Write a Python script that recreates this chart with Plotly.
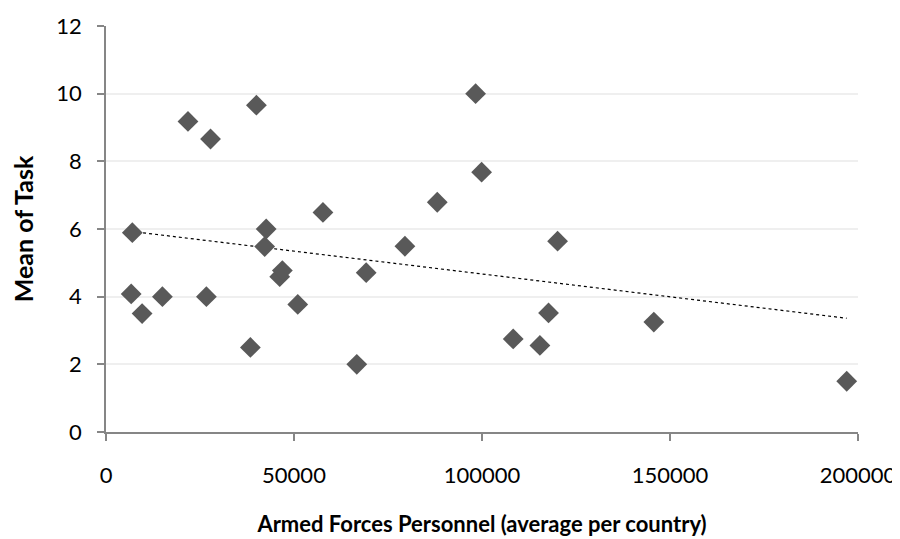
import numpy as np
import plotly.graph_objects as go

# Data
armed_forces = [7000, 6700, 9600, 15000, 21800, 26700, 27800, 38400, 40000, 42200,
                42600, 46200, 46900, 51000, 57700, 66700, 69200, 79500, 88100, 98300,
                99900, 108300, 115400, 117700, 120100, 145700, 197000]
mean_task = [5.89, 4.08, 3.50, 4.00, 9.18, 4.00, 8.66, 2.50, 9.66, 5.48,
             6.00, 4.59, 4.77, 3.77, 6.49, 2.00, 4.71, 5.49, 6.79, 10.0,
             7.68, 2.75, 2.56, 3.52, 5.64, 3.25, 1.50]

x_ticks = [0, 50000, 100000, 150000, 200000]
y_ticks = [0, 2, 4, 6, 8, 10, 12]

x_title = "Armed Forces Personnel (average per country)"
y_title = "Mean of Task"

# Linear trendline
xa = np.array(armed_forces, dtype=float)
ya = np.array(mean_task, dtype=float)
slope, intercept = np.polyfit(xa, ya, 1)
tx = [xa.min(), xa.max()]
ty = [slope * v + intercept for v in tx]

fig = go.Figure()
fig.add_trace(go.Scatter(
    x=tx, y=ty, mode="lines",
    line=dict(color="#000000", width=1.2, dash="dot"),
    hoverinfo="skip", showlegend=False,
))
fig.add_trace(go.Scatter(
    x=armed_forces, y=mean_task, mode="markers",
    marker=dict(symbol="diamond", size=16, color="#595959",
                line=dict(width=0)),
    showlegend=False,
))

font_family = "Lato, 'Open Sans', sans-serif"

fig.update_layout(
    width=900, height=539,
    margin=dict(l=98, r=50, t=18, b=115),
    paper_bgcolor="white", plot_bgcolor="white",
    font=dict(family=font_family, size=22, color="#000000"),
    xaxis=dict(
        range=[0, 200000], tickvals=x_ticks,
        ticktext=[str(v) for v in x_ticks],
        showgrid=False, zeroline=False,
        showline=True, linecolor="#868686", linewidth=1.5,
        ticks="outside", ticklen=7, tickcolor="#868686", tickwidth=1.5,
        ticklabelstandoff=16,
        tickfont=dict(size=22),
        title=dict(text="<b>" + x_title + "</b>", standoff=29,
                   font=dict(size=22)),
        automargin=False,
    ),
    yaxis=dict(
        range=[0, 12], tickvals=y_ticks,
        showgrid=True, gridcolor="#efefef", gridwidth=1.5,
        zeroline=False,
        showline=True, linecolor="#868686", linewidth=1.5,
        ticks="outside", ticklen=7, tickcolor="#868686", tickwidth=1.5,
        ticklabelstandoff=11,
        tickfont=dict(size=22),
        title=dict(text="<b>" + y_title + "</b>", standoff=16,
                   font=dict(size=25)),
        automargin=False,
    ),
)

fig.write_html("out.html")
